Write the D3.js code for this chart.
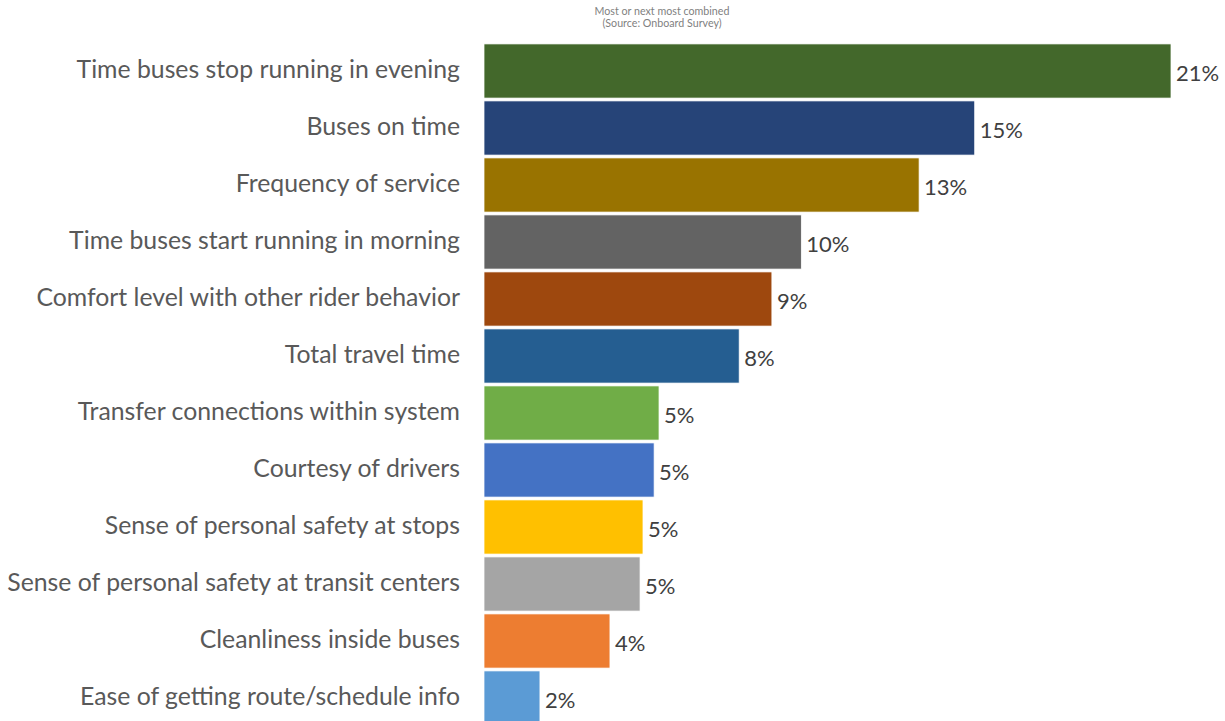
<!DOCTYPE html>
<html><head><meta charset="utf-8">
<script src="https://cdn.jsdelivr.net/npm/d3@7"></script>
<style>body{margin:0;background:#fff}svg{display:block}</style>
</head><body>
<script>
const categories = ["Time buses stop running in evening","Buses on time","Frequency of service","Time buses start running in morning","Comfort level with other rider behavior","Total travel time","Transfer connections within system","Courtesy of drivers","Sense of personal safety at stops","Sense of personal safety at transit centers","Cleanliness inside buses","Ease of getting route/schedule info"];
const values = [21.0, 15.0, 13.3, 9.7, 8.8, 7.8, 5.35, 5.2, 4.86, 4.77, 3.85, 1.71];
const colors = ["#43682B","#264478","#997300","#636363","#9E480E","#255E91","#70AD47","#4472C4","#FFC000","#A5A5A5","#ED7D31","#5B9BD5"];
const titleLines = ["Most or next most combined","(Source: Onboard Survey)"];

const W=1225,H=721;
const svg=d3.select("body").append("svg").attr("width",W).attr("height",H);
const font="Lato, 'Open Sans', sans-serif";
const x=d3.scaleLinear().domain([0,21]).range([484,1171]);
const y=d3.scaleBand().domain(categories).range([42.5,726.5]).paddingInner(0.05).paddingOuter(0.025);

svg.append("g").selectAll("text").data(titleLines).join("text")
 .attr("x",662).attr("y",(d,i)=>15+i*11.5).attr("text-anchor","middle")
 .attr("font-family",font).attr("font-size",10.7).attr("fill","#7f7f7f").text(d=>d);

svg.append("g").selectAll("rect").data(values).join("rect")
 .attr("x",x(0)).attr("y",(d,i)=>y(categories[i]))
 .attr("width",d=>x(d)-x(0)).attr("height",y.bandwidth())
 .attr("fill",(d,i)=>colors[i]).attr("stroke","#fff").attr("stroke-width",0.75);

const ax=d3.axisLeft(y).tickSize(0).tickPadding(24);
const g=svg.append("g").attr("transform",`translate(${x(0)},0)`).call(ax);
g.select(".domain").remove();
g.selectAll("text").attr("font-family",font).attr("font-size",24.8).attr("fill","#595959").attr("dy","0.3em");

svg.append("g").selectAll("text").data(values).join("text")
 .attr("x",d=>x(d)+5).attr("y",(d,i)=>y(categories[i])+y.bandwidth()/2+2)
 .attr("dy","0.35em").attr("font-family",font).attr("font-size",22).attr("fill","#404040")
 .text(d=>d3.format(".0f")(d)+"%");
</script>
</body></html>
